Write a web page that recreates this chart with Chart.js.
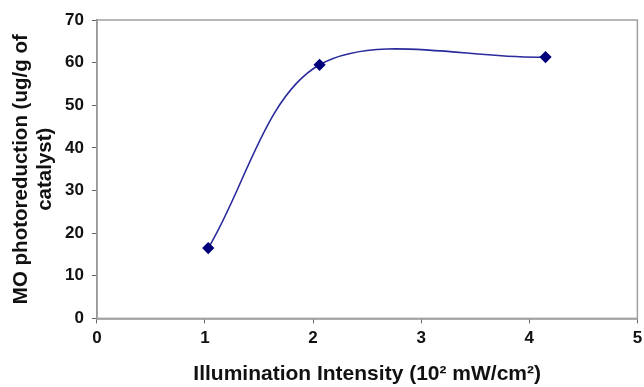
<!DOCTYPE html>
<html lang="en">

<head>
    <meta charset="UTF-8">
    <title>Chart</title>
    <style>
        html, body { margin: 0; padding: 0; background: #fff; }
    </style>
</head>

<body>
    <div style="width: 644px; height: 387px;">
        <canvas id="myChart"></canvas>
    </div>

    <script src="https://cdn.jsdelivr.net/npm/chart.js"></script>
    <script type="text/javascript">
        // values
        const intensity = [1.03, 2.06, 4.15];
        const reduction = [16.5, 59.5, 61.3];
        const xTicks = [0, 1, 2, 3, 4, 5];
        const yTicks = [0, 10, 20, 30, 40, 50, 60, 70];

        const points = intensity.map((x, i) => ({ x: x, y: reduction[i] }));

        // grey frame around plot area
        const frame = {
            id: 'frame',
            afterDraw(chart) {
                const a = chart.chartArea;
                const c = chart.ctx;
                c.save();
                c.strokeStyle = '#a0a0a0';
                c.lineWidth = 1.5;
                c.strokeRect(a.left, a.top, a.right - a.left, a.bottom - a.top);
                c.restore();
            }
        };

        const ctx = document.getElementById('myChart');
        let rtchart = new Chart(ctx, {
            type: 'line',
            data: {
                datasets: [{
                    data: points,
                    borderColor: '#2a2a9c',
                    borderWidth: 1.6,
                    backgroundColor: '#00007a',
                    pointStyle: 'rectRot',
                    pointRadius: 5,
                    pointBorderColor: '#00007a',
                    tension: 0.33,
                    fill: false
                }]
            },
            plugins: [frame],
            options: {
                responsive: true,
                maintainAspectRatio: false,
                animation: false,
                layout: { padding: { left: 9, right: 0, top: 20, bottom: 0 } },
                plugins: {
                    legend: { display: false },
                    tooltip: { enabled: false }
                },
                scales: {
                    x: {
                        type: 'linear',
                        min: 0,
                        max: 5,
                        afterBuildTicks: (axis) => { axis.ticks = xTicks.map(v => ({ value: v })); },
                        afterFit: (axis) => { axis.paddingRight = 5; },
                        grid: { drawOnChartArea: false, drawTicks: true, tickLength: 5, color: '#666' },
                        border: { color: '#666', width: 1.5 },
                        ticks: {
                            color: '#111',
                            font: { family: 'Liberation Sans', size: 17, weight: 'bold' },
                            padding: 5
                        },
                        title: {
                            display: true,
                            text: 'Illumination Intensity (10\u00B2 mW/cm\u00B2)',
                            color: '#111',
                            font: { family: 'Liberation Sans', size: 21, weight: 'bold' },
                            padding: { top: 8, bottom: 0 }
                        }
                    },
                    y: {
                        min: 0,
                        max: 70,
                        afterBuildTicks: (axis) => { axis.ticks = yTicks.map(v => ({ value: v })); },
                        grid: { drawOnChartArea: false, drawTicks: true, tickLength: 5, color: '#666' },
                        border: { color: '#666', width: 1.5 },
                        ticks: {
                            color: '#111',
                            font: { family: 'Liberation Sans', size: 17, weight: 'bold' },
                            padding: 8
                        },
                        title: {
                            display: true,
                            text: ['MO photoreduction (ug/g of', 'catalyst)'],
                            color: '#111',
                            font: { family: 'Liberation Sans', size: 20.5, weight: 'bold', lineHeight: 1.17 },
                            padding: { top: 0, bottom: 0 }
                        }
                    }
                }
            }
        });
    </script>
</body>

</html>
